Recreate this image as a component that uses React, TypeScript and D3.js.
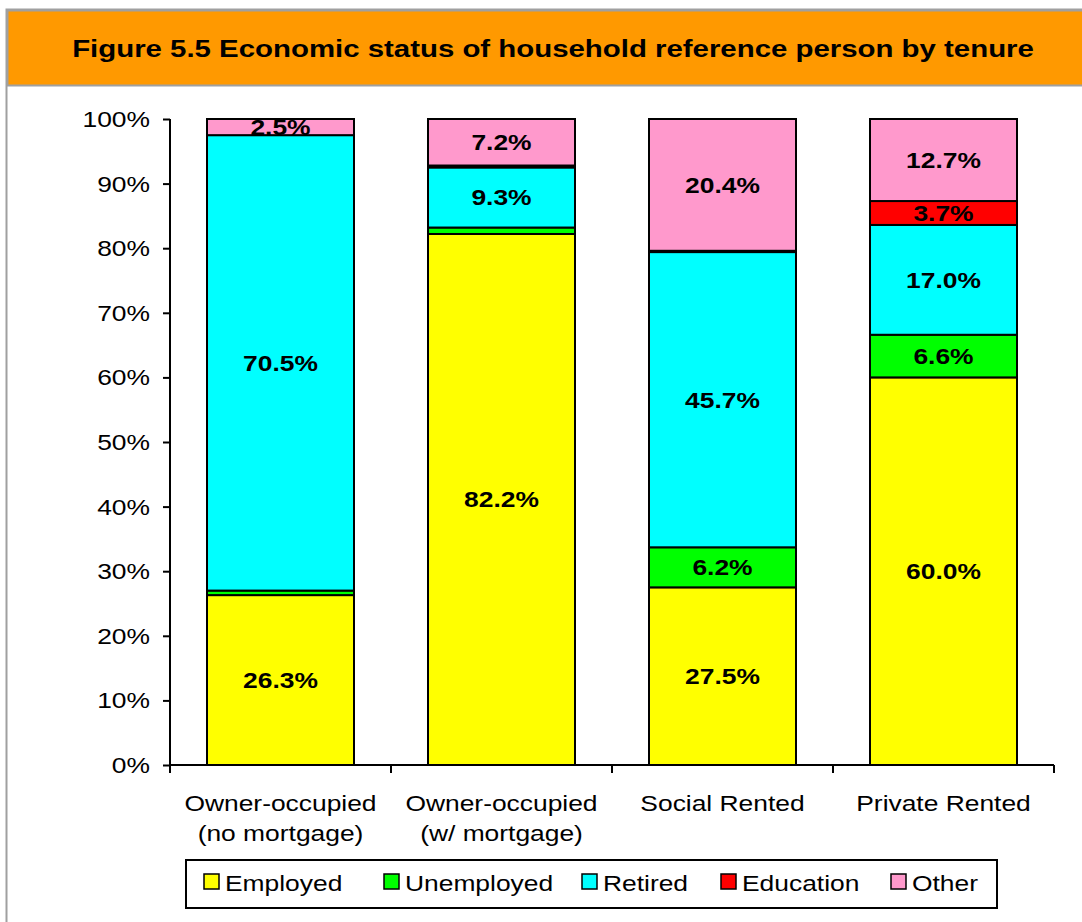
import React, { useEffect, useRef } from 'react';
import * as d3 from 'd3';

const categories = [
  ['Owner-occupied', '(no mortgage)'],
  ['Owner-occupied', '(w/ mortgage)'],
  ['Social Rented'],
  ['Private Rented'],
];
const seriesNames = ['Employed', 'Unemployed', 'Retired', 'Education', 'Other'];
const seriesColors = ['#ffff00', '#00ff00', '#00ffff', '#ff0000', '#ff99cc'];
const employed = [26.3, 82.2, 27.5, 60.0];
const unemployed = [0.7, 1.0, 6.2, 6.6];
const retired = [70.5, 9.3, 45.7, 17.0];
const education = [0.0, 0.3, 0.2, 3.7];
const other = [2.5, 7.2, 20.4, 12.7];
const yTicks = [0, 10, 20, 30, 40, 50, 60, 70, 80, 90, 100];

// the original text is a bit wider than Arial, so stretch it sideways
const SX = 1.2;

const App = () => {
  const ref = useRef(null);

  useEffect(() => {
    const W = 1082, H = 922;
    d3.select(ref.current).selectAll('*').remove();
    const svg = d3.select(ref.current)
      .append('svg')
      .attr('width', W)
      .attr('height', H)
      .style('display', 'block')
      .style('font-family', 'Arial, "Liberation Sans", sans-serif');

    const label = (parent, x, y, txt, size, anchor = 'middle', bold = false) =>
      parent.append('text')
        .attr('transform', `translate(${x},${y}) scale(${SX},1)`)
        .attr('text-anchor', anchor)
        .style('font-size', size + 'px')
        .style('font-weight', bold ? 'bold' : 'normal')
        .attr('fill', '#000')
        .text(txt);

    svg.append('rect').attr('width', W).attr('height', H).attr('fill', '#fff');

    // frame + header
    svg.append('rect')
      .attr('x', 6.5).attr('y', 9.5).attr('width', W + 10).attr('height', H + 10)
      .attr('fill', 'none').attr('stroke', '#a0a0a0').attr('stroke-width', 2);
    svg.append('rect')
      .attr('x', 7.5).attr('y', 10.5).attr('width', W).attr('height', 75)
      .attr('fill', '#ff9900').attr('stroke', '#a0a0a0').attr('stroke-width', 2);
    label(svg, 553, 57, 'Figure 5.5 Economic status of household reference person by tenure', 24.5, 'middle', true);

    const x0 = 170, x1 = 1054, yTop = 119, yBot = 765;
    const x = d3.scaleBand().domain(d3.range(categories.length).map(String)).range([x0, x1]);
    const y = d3.scaleLinear().domain([0, 100]).range([yBot, yTop]);
    const barW = 147;

    const series = [employed, unemployed, retired, education, other];
    const rows = categories.map((c, i) => {
      const r = { key: String(i) };
      seriesNames.forEach((n, j) => { r[n] = series[j][i]; });
      return r;
    });
    const stacked = d3.stack().keys(seriesNames)(rows);

    const g = svg.append('g');
    stacked.forEach((layer, j) => {
      g.selectAll(null)
        .data(layer)
        .enter()
        .append('rect')
        .attr('x', d => x(d.data.key) + (x.bandwidth() - barW) / 2)
        .attr('y', d => y(d[1]))
        .attr('width', barW)
        .attr('height', d => y(d[0]) - y(d[1]))
        .attr('fill', seriesColors[j])
        .attr('stroke', '#000')
        .attr('stroke-width', 2);
    });

    // value labels
    stacked.forEach((layer) => {
      layer.filter(d => d[1] - d[0] >= 2).forEach(d => {
        label(g, x(d.data.key) + x.bandwidth() / 2, (y(d[0]) + y(d[1])) / 2 + 8,
          (d[1] - d[0]).toFixed(1) + '%', 22, 'middle', true);
      });
    });

    // y axis
    const yAxis = svg.append('g')
      .attr('transform', `translate(${x0},0)`)
      .call(d3.axisLeft(y).tickValues(yTicks).tickSize(7).tickFormat(() => ''));
    yAxis.select('.domain').attr('stroke', '#000').attr('stroke-width', 2).attr('d', `M0,${yTop}V${yBot}`);
    yAxis.selectAll('.tick line').attr('stroke', '#000').attr('stroke-width', 2);
    yTicks.forEach(t => label(svg, 150, y(t) + 8, t + '%', 22, 'end'));

    // x axis
    const xg = svg.append('g');
    xg.append('line').attr('x1', x0).attr('x2', x1).attr('y1', yBot).attr('y2', yBot)
      .attr('stroke', '#000').attr('stroke-width', 2);
    const bounds = x.domain().map(k => x(k)).concat([x1]);
    xg.selectAll(null).data(bounds).enter().append('line')
      .attr('x1', d => d).attr('x2', d => d).attr('y1', yBot).attr('y2', yBot + 8)
      .attr('stroke', '#000').attr('stroke-width', 2);
    categories.forEach((lines, i) => {
      lines.forEach((ln, k) => {
        label(xg, x(String(i)) + x.bandwidth() / 2, 811 + k * 30, ln, 22);
      });
    });

    // legend
    const lg = svg.append('g');
    lg.append('rect').attr('x', 186).attr('y', 860).attr('width', 811).attr('height', 48)
      .attr('fill', '#fff').attr('stroke', '#000').attr('stroke-width', 2);
    const legendX = [204, 384, 582, 721, 891];
    seriesNames.forEach((n, j) => {
      lg.append('rect').attr('x', legendX[j]).attr('y', 874).attr('width', 15).attr('height', 15)
        .attr('fill', seriesColors[j]).attr('stroke', '#000').attr('stroke-width', 1.5);
      label(lg, legendX[j] + 21, 891, n, 22, 'start');
    });
  }, []);

  return <div ref={ref} style={{ position: 'absolute', left: 0, top: 0 }} />;
};

export default App;
